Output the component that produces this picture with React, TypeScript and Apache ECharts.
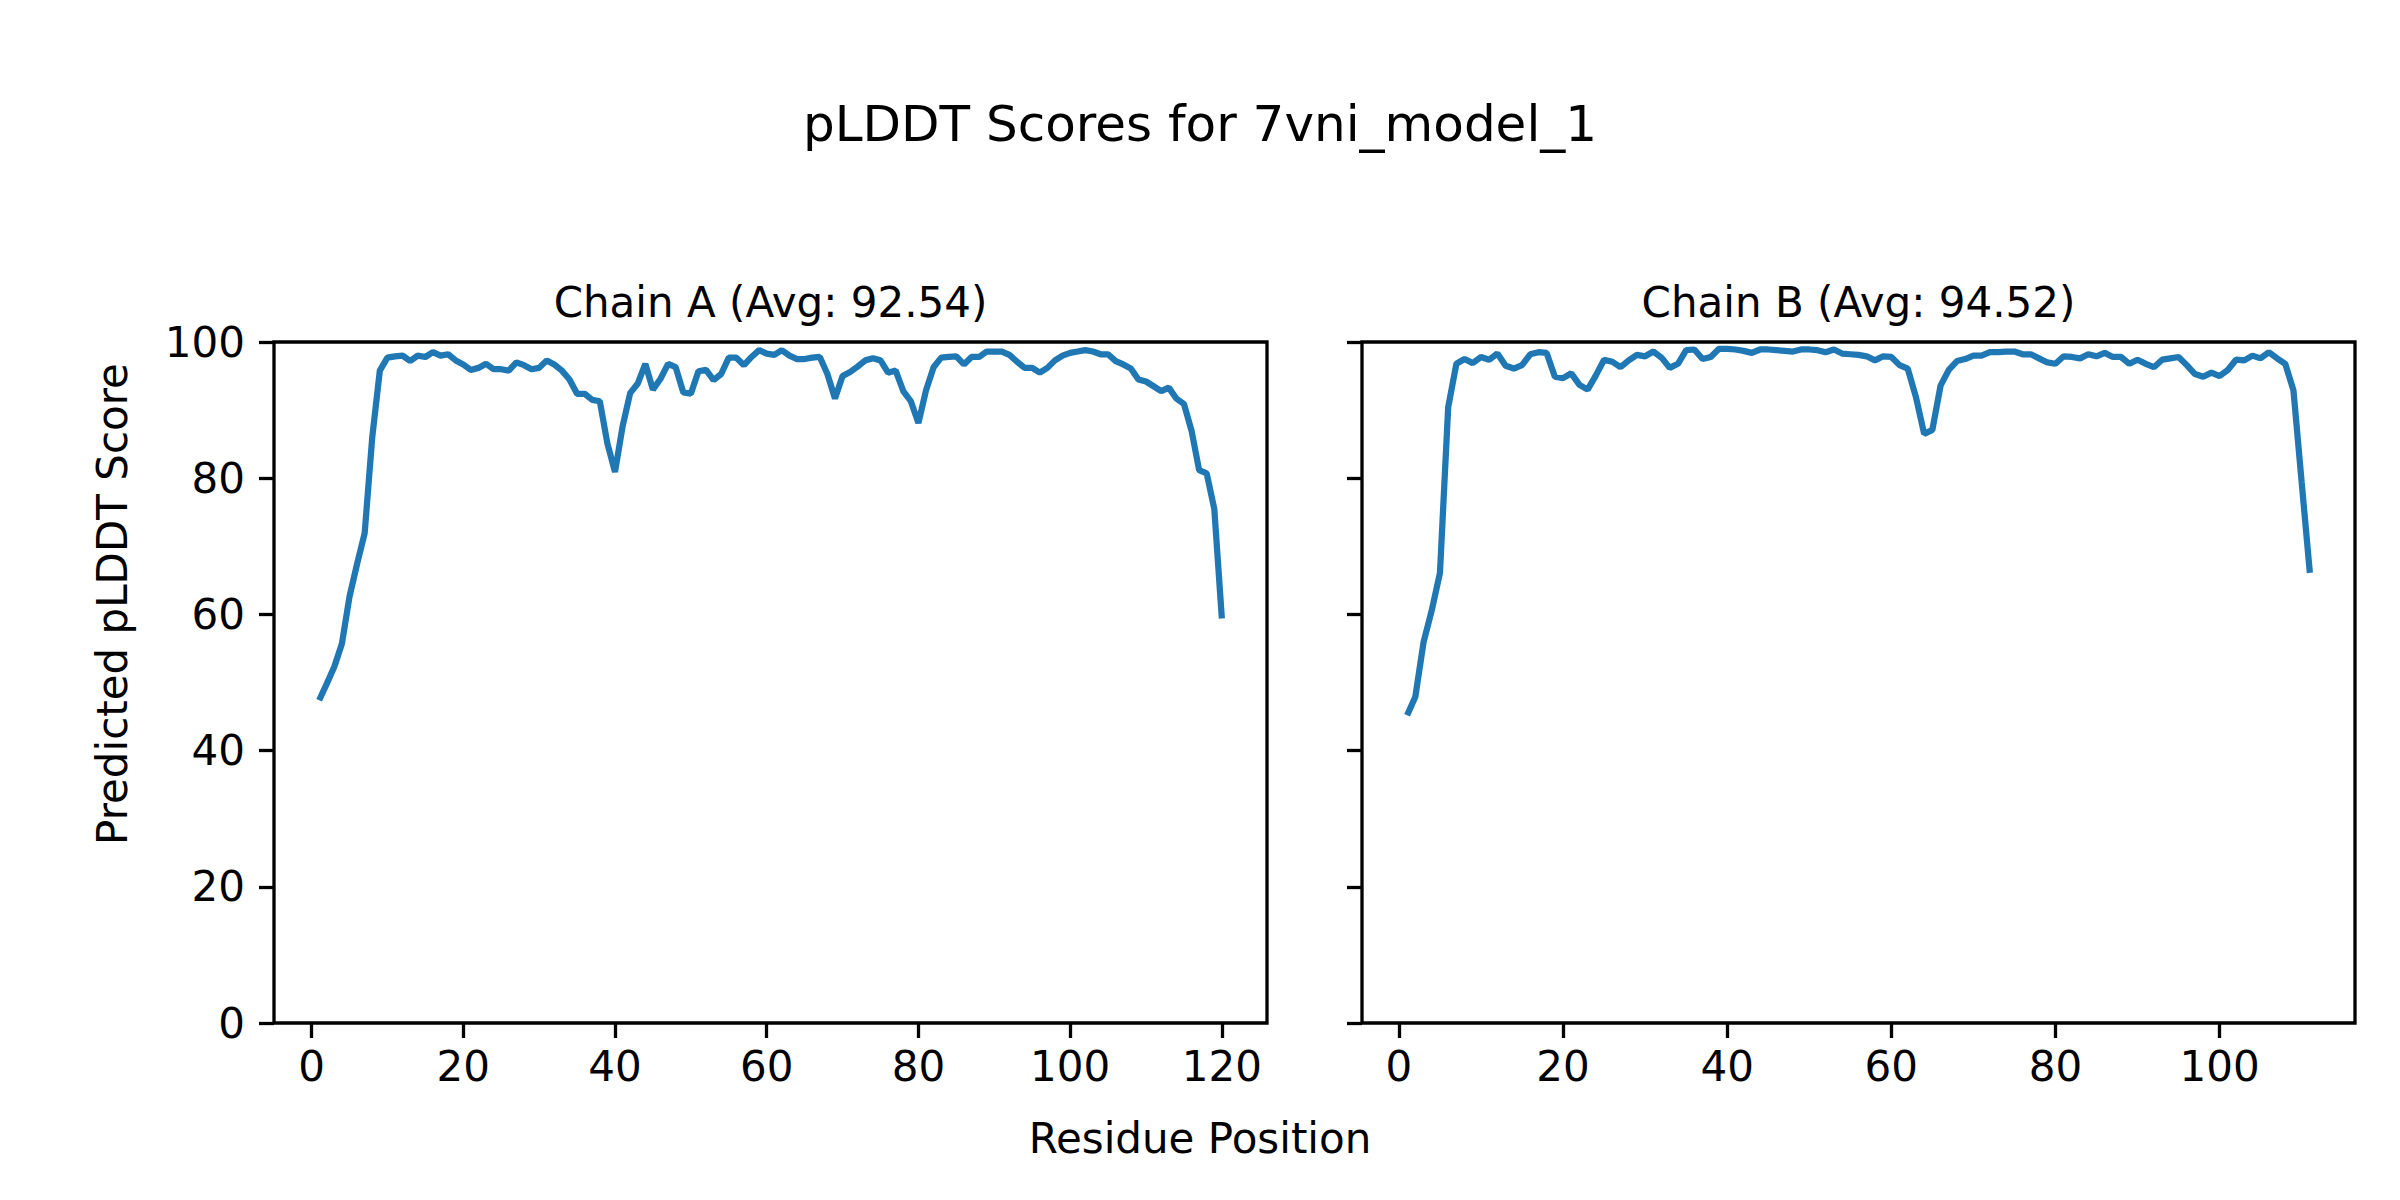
import React, { useEffect, useRef } from "react";
import * as echarts from "echarts";

const chainAScores = [
  47.4, 49.8, 52.3, 55.7, 62.6, 67.4, 71.9, 86.0, 95.8, 97.7,
  97.9, 98.0, 97.2, 98.0, 97.8, 98.5, 98.0, 98.2, 97.3, 96.7,
  95.9, 96.2, 96.8, 96.0, 96.0, 95.8, 97.0, 96.6, 96.0, 96.2,
  97.3, 96.7, 95.8, 94.5, 92.4, 92.4, 91.5, 91.3, 85.1, 80.9,
  87.6, 92.5, 93.9, 96.8, 93.0, 94.6, 96.8, 96.3, 92.6, 92.4,
  95.7, 95.9, 94.4, 95.3, 97.7, 97.7, 96.6, 97.8, 98.8, 98.3,
  98.1, 98.8, 98.0, 97.5, 97.5, 97.7, 97.8, 95.3, 91.7, 95.0,
  95.6, 96.4, 97.3, 97.6, 97.3, 95.5, 95.8, 92.8, 91.3, 88.1,
  92.9, 96.3, 97.7, 97.8, 97.9, 96.7, 97.8, 97.8, 98.6, 98.6,
  98.6, 98.1, 97.1, 96.2, 96.2, 95.5, 96.2, 97.3, 98.0, 98.4,
  98.6, 98.8, 98.6, 98.2, 98.2, 97.2, 96.7, 96.1, 94.5, 94.2,
  93.5, 92.8, 93.3, 91.7, 90.9, 87.0, 81.2, 80.7, 75.5, 59.4,
];

const chainBScores = [
  45.2, 47.9, 55.9, 60.6, 66.1, 90.4, 96.8, 97.5, 96.9, 97.8,
  97.4, 98.3, 96.5, 96.1, 96.6, 98.2, 98.5, 98.4, 94.9, 94.7,
  95.4, 93.7, 93.0, 95.1, 97.4, 97.1, 96.3, 97.3, 98.1, 97.9,
  98.6, 97.7, 96.2, 96.8, 98.8, 98.9, 97.5, 97.8, 99.0, 99.0,
  98.9, 98.7, 98.4, 98.9, 98.9, 98.8, 98.7, 98.6, 98.9, 98.9,
  98.8, 98.5, 98.9, 98.3, 98.2, 98.1, 97.9, 97.3, 97.9, 97.8,
  96.6, 96.1, 91.9, 86.5, 87.1, 93.6, 95.9, 97.2, 97.5, 98.0,
  98.0, 98.5, 98.5, 98.6, 98.6, 98.2, 98.2, 97.6, 97.0, 96.8,
  97.9, 97.8, 97.6, 98.2, 97.9, 98.4, 97.8, 97.8, 96.8, 97.4,
  96.8, 96.3, 97.4, 97.6, 97.8, 96.6, 95.3, 94.9, 95.5, 95.0,
  95.9, 97.4, 97.3, 98.0, 97.6, 98.5, 97.6, 96.8, 92.9, 79.4,
  66.1,
];

const xTicksA = [0, 20, 40, 60, 80, 100, 120];
const xTicksB = [0, 20, 40, 60, 80, 100];
const yTicks = [0, 20, 40, 60, 80, 100];

const suptitle = "pLDDT Scores for 7vni_model_1";
const titleA = "Chain A (Avg: 92.54)";
const titleB = "Chain B (Avg: 94.52)";
const xLabel = "Residue Position";
const yLabel = "Predicted pLDDT Score";

const FONT = "DejaVu Sans";
const LINE_COLOR = "#1f77b4";

function toPoints(scores: number[]) {
  return scores.map((v, i) => [i + 1, v]);
}

function xAxisFor(gridIndex: number, min: number, max: number, ticks: number[]) {
  return {
    type: "value",
    gridIndex,
    min,
    max,
    position: "bottom",
    axisLine: { show: false, onZero: false },
    splitLine: { show: false },
    axisTick: {
      show: true,
      inside: false,
      length: 15,
      customValues: ticks,
      lineStyle: { color: "#000", width: 3.3 },
    },
    axisLabel: {
      show: true,
      customValues: ticks,
      margin: 22,
      fontFamily: FONT,
      fontSize: 42,
      color: "#000",
    },
  };
}

function yAxisFor(gridIndex: number, showLabels: boolean) {
  return {
    type: "value",
    gridIndex,
    min: 0,
    max: 100,
    interval: 20,
    position: "left",
    axisLine: { show: false, onZero: false },
    splitLine: { show: false },
    axisTick: {
      show: true,
      inside: false,
      length: 15,
      customValues: yTicks,
      lineStyle: { color: "#000", width: 3.3 },
    },
    axisLabel: {
      show: showLabels,
      margin: 29,
      fontFamily: FONT,
      fontSize: 42,
      color: "#000",
      customValues: yTicks,
    },
  };
}

export default function App() {
  const ref = useRef<HTMLDivElement>(null);

  useEffect(() => {
    if (!ref.current) return;
    const chart = echarts.init(ref.current, undefined, { renderer: "svg" });
    const gridCommon = {
      top: 342,
      height: 681,
      width: 993,
      show: true,
      borderColor: "#000",
      borderWidth: 3.3,
      backgroundColor: "transparent",
    };
    chart.setOption({
      animation: false,
      backgroundColor: "#fff",
      grid: [
        { ...gridCommon, left: 274 },
        { ...gridCommon, left: 1362 },
      ],
      xAxis: [
        xAxisFor(0, -4.95, 125.95, xTicksA),
        xAxisFor(1, -4.5, 116.5, xTicksB),
      ],
      yAxis: [yAxisFor(0, true), yAxisFor(1, false)],
      series: [
        {
          type: "line",
          xAxisIndex: 0,
          yAxisIndex: 0,
          data: toPoints(chainAScores),
          showSymbol: false,
          lineStyle: { color: LINE_COLOR, width: 6.25 },
          itemStyle: { color: LINE_COLOR },
        },
        {
          type: "line",
          xAxisIndex: 1,
          yAxisIndex: 1,
          data: toPoints(chainBScores),
          showSymbol: false,
          lineStyle: { color: LINE_COLOR, width: 6.25 },
          itemStyle: { color: LINE_COLOR },
        },
      ],
      graphic: [
        {
          type: "text",
          x: 1200,
          y: 124,
          style: {
            text: suptitle,
            fontFamily: FONT,
            fontSize: 50,
            fill: "#000",
            align: "center",
            verticalAlign: "middle",
          },
        },
        {
          type: "text",
          x: 770.5,
          y: 302,
          style: {
            text: titleA,
            fontFamily: FONT,
            fontSize: 42,
            fill: "#000",
            align: "center",
            verticalAlign: "middle",
          },
        },
        {
          type: "text",
          x: 1858.5,
          y: 302,
          style: {
            text: titleB,
            fontFamily: FONT,
            fontSize: 42,
            fill: "#000",
            align: "center",
            verticalAlign: "middle",
          },
        },
        {
          type: "text",
          x: 1200,
          y: 1138,
          style: {
            text: xLabel,
            fontFamily: FONT,
            fontSize: 42,
            fill: "#000",
            align: "center",
            verticalAlign: "middle",
          },
        },
        {
          type: "text",
          x: 112,
          y: 604,
          rotation: Math.PI / 2,
          style: {
            text: yLabel,
            fontFamily: FONT,
            fontSize: 42,
            fill: "#000",
            align: "center",
            verticalAlign: "middle",
          },
        },
      ],
    });
    return () => chart.dispose();
  }, []);

  return (
    <div
      ref={ref}
      style={{ position: "absolute", left: 0, top: 0, width: 2400, height: 1200 }}
    />
  );
}
